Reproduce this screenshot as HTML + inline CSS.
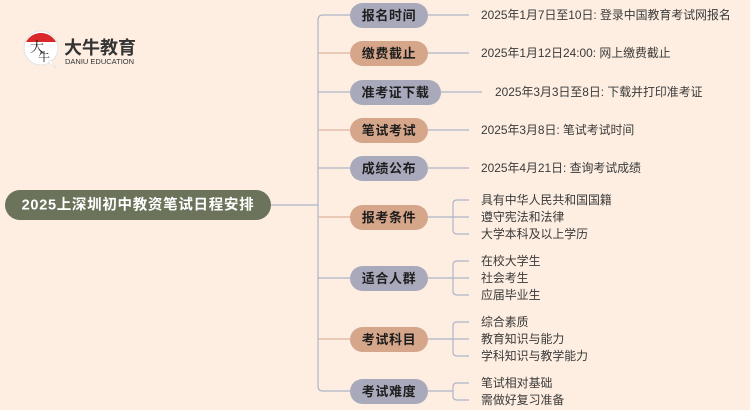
<!DOCTYPE html>
<html><head><meta charset="utf-8"><style>
html,body{margin:0;padding:0;background:#fdeee1;}
svg{display:block;font-family:"Liberation Sans","Noto Sans CJK SC",sans-serif;}
.p{font-size:13px;letter-spacing:0.6px;font-weight:bold;fill:#1e1e1e;text-anchor:middle;dominant-baseline:central;}
.l{font-size:11.9px;fill:#3a3a3a;dominant-baseline:central;}
</style></head><body>
<svg width="750" height="410" viewBox="0 0 750 410">
<rect width="750" height="410" fill="#fdeee1"/>
<!-- logo -->
<circle cx="41" cy="48" r="17" fill="#fff" stroke="#ddd" stroke-width="0.8"/>
<path d="M26 42 A17 17 0 0 1 56 42 Z" fill="#d8282a"/>
<path d="M48 62 L56 68 L51 60 Z" fill="#fff" stroke="#ddd" stroke-width="0.6"/>
<text x="30" y="52" font-size="14" fill="#222" font-family="'Noto Serif CJK SC',serif">大</text>
<text x="38" y="61" font-size="12" fill="#222" font-family="'Noto Serif CJK SC',serif">牛</text>
<text x="64" y="54" font-size="18" font-weight="bold" fill="#333">大牛教育</text>
<text x="65" y="64" font-size="7.5" fill="#333">DANIU EDUCATION</text>
<!-- root -->
<rect x="5" y="190" width="266" height="30" rx="15" fill="#6b735b"/>
<text x="138" y="205.5" font-size="14.5" letter-spacing="0.7" font-weight="bold" fill="#fff" text-anchor="middle" dominant-baseline="central">2025上深圳初中教资笔试日程安排</text>
<line x1="271" y1="205" x2="318" y2="205" stroke="#b0b4c8" stroke-width="1.2"/>
<g fill="none" stroke-width="1.2">
<path d="M350 15 H323 Q318 15 318 20 V205" stroke="#b0b4c8"/>
<path d="M350 53 H318" stroke="#e0b49c"/>
<path d="M350 92 H318" stroke="#b0b4c8"/>
<path d="M350 130 H318" stroke="#e0b49c"/>
<path d="M350 168 H318" stroke="#b0b4c8"/>
<path d="M318 205 V386 Q318 391 323 391 H350" stroke="#b0b4c8"/>
<path d="M350 217 H318" stroke="#e0b49c"/>
<path d="M350 278 H318" stroke="#b0b4c8"/>
<path d="M350 339 H318" stroke="#e0b49c"/>
<g stroke="#b0b4c8">
<path d="M428 15 H469"/><path d="M428 53 H469"/><path d="M441 92 H482"/><path d="M428 130 H469"/><path d="M428 168 H469"/>
<path d="M428 217 H453"/><path d="M469 200 H457 Q453 200 453 204 V230 Q453 234 457 234 H469 M453 217 H469"/>
<path d="M428 278 H453"/><path d="M469 261 H457 Q453 261 453 265 V291 Q453 295 457 295 H469 M453 278 H469"/>
<path d="M428 339 H453"/><path d="M469 322 H457 Q453 322 453 326 V352 Q453 356 457 356 H469 M453 339 H469"/>
<path d="M428 391 H453"/><path d="M469 383 H457 Q453 383 453 387 V396 Q453 400 457 400 H469"/>
</g>
</g>
<g>
<rect x="350" y="3" width="78" height="25" rx="12.5" fill="#a9a9bc"/><text class="p" x="389" y="15.5">报名时间</text>
<rect x="350" y="41" width="78" height="25" rx="12.5" fill="#d5a68a"/><text class="p" x="389" y="53.5">缴费截止</text>
<rect x="350" y="80" width="91" height="25" rx="12.5" fill="#a9a9bc"/><text class="p" x="395.5" y="92.5">准考证下载</text>
<rect x="350" y="118" width="78" height="25" rx="12.5" fill="#d5a68a"/><text class="p" x="389" y="130.5">笔试考试</text>
<rect x="350" y="156" width="78" height="25" rx="12.5" fill="#a9a9bc"/><text class="p" x="389" y="168.5">成绩公布</text>
<rect x="350" y="205" width="78" height="25" rx="12.5" fill="#d5a68a"/><text class="p" x="389" y="217.5">报考条件</text>
<rect x="350" y="266" width="78" height="25" rx="12.5" fill="#a9a9bc"/><text class="p" x="389" y="278.5">适合人群</text>
<rect x="350" y="327" width="78" height="25" rx="12.5" fill="#d5a68a"/><text class="p" x="389" y="339.5">考试科目</text>
<rect x="350" y="379" width="78" height="25" rx="12.5" fill="#a9a9bc"/><text class="p" x="389" y="391.5">考试难度</text>
</g>
<g>
<text class="l" x="481" y="15">2025年1月7日至10日: 登录中国教育考试网报名</text>
<text class="l" x="481" y="53">2025年1月12日24:00: 网上缴费截止</text>
<text class="l" x="495" y="92">2025年3月3日至8日: 下载并打印准考证</text>
<text class="l" x="481" y="130">2025年3月8日: 笔试考试时间</text>
<text class="l" x="481" y="168">2025年4月21日: 查询考试成绩</text>
<text class="l" x="481" y="200">具有中华人民共和国国籍</text>
<text class="l" x="481" y="217">遵守宪法和法律</text>
<text class="l" x="481" y="234">大学本科及以上学历</text>
<text class="l" x="481" y="261">在校大学生</text>
<text class="l" x="481" y="278">社会考生</text>
<text class="l" x="481" y="295">应届毕业生</text>
<text class="l" x="481" y="322">综合素质</text>
<text class="l" x="481" y="339">教育知识与能力</text>
<text class="l" x="481" y="356">学科知识与教学能力</text>
<text class="l" x="481" y="383">笔试相对基础</text>
<text class="l" x="481" y="400">需做好复习准备</text>
</g>
</svg>
</body></html>
